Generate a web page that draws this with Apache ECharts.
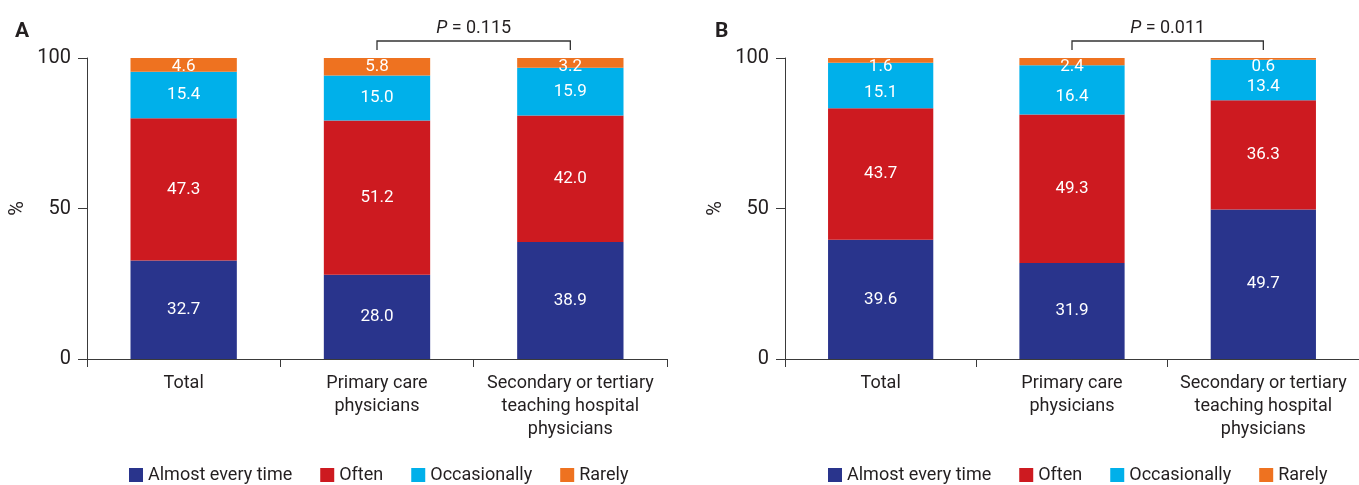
<!DOCTYPE html>
<html>
<head>
<meta charset="utf-8">
<script src="https://cdn.jsdelivr.net/npm/echarts@6/dist/echarts.min.js"></script>
<style>
  html, body { margin: 0; padding: 0; background: #fff; }
  #main { width: 1359px; height: 485px; }
</style>
</head>
<body>
<div id="main"></div>
<script>
// categories and legend names
const categories = ['Total', 'Primary care\nphysicians', 'Secondary or tertiary\nteaching hospital\nphysicians'];
const levels = ['Almost every time', 'Often', 'Occasionally', 'Rarely'];

// panel A values (%)
const almostA = [32.7, 28.0, 38.9];
const oftenA = [47.3, 51.2, 42.0];
const occasA = [15.4, 15.0, 15.9];
const rarelyA = [4.6, 5.8, 3.2];

// panel B values (%)
const almostB = [39.6, 31.9, 49.7];
const oftenB = [43.7, 49.3, 36.3];
const occasB = [15.1, 16.4, 13.4];
const rarelyB = [1.6, 2.4, 0.6];

const pValues = ['0.115', '0.011'];

const colors = ['#29348c', '#cd1a20', '#00b0ea', '#ee7220'];
const txt = '#231f20';
const font = 'Roboto';

let chart = echarts.init(document.getElementById('main'));

function mkSeries(idx, arrs) {
    return arrs.map((arr, k) => {
        let label = {
            show: true, color: '#fff', fontSize: 17, fontFamily: font,
            formatter: p => p.value.toFixed(1)
        };
        if (k === 3) {
            label.position = 'insideTop';
            label.distance = 0;
        } else {
            label.position = 'inside';
            if (k === 2 && idx === 1) label.offset = [0, 7];
        }
        return {
            name: levels[k], type: 'bar', stack: 'p' + idx,
            xAxisIndex: idx, yAxisIndex: idx,
            barWidth: '55%',
            itemStyle: { color: colors[k] },
            label: label,
            data: arr
        };
    });
}

const axisColor = '#3a3a3a';
function xAx(i) {
    return {
        type: 'category', gridIndex: i, data: categories,
        axisLine: { lineStyle: { color: axisColor } },
        axisTick: { show: true, length: 8, lineStyle: { color: axisColor } },
        axisLabel: { color: txt, fontSize: 18, fontFamily: font, margin: 13, lineHeight: 23, interval: 0 }
    };
}
function yAx(i) {
    return {
        type: 'value', gridIndex: i, min: 0, max: 100, interval: 50,
        name: '%', nameLocation: 'middle', nameGap: 59, nameRotate: 90,
        nameTextStyle: { color: txt, fontSize: 20, fontFamily: font },
        axisLine: { show: true, lineStyle: { color: axisColor } },
        axisTick: { show: true, length: 9, lineStyle: { color: axisColor } },
        splitLine: { show: false },
        axisLabel: { color: txt, fontSize: 20, fontFamily: font, margin: 16 }
    };
}
function leg(left) {
    return {
        data: levels, top: 461, left: left, icon: 'rect',
        itemWidth: 14, itemHeight: 14, itemGap: 28,
        textStyle: { color: txt, fontSize: 18, fontFamily: font }
    };
}

let option = {
    animation: false,
    backgroundColor: '#fff',
    title: [
        { text: 'A', left: 10, top: 16, textStyle: { fontSize: 21, fontWeight: 'bold', color: txt, fontFamily: font } },
        { text: 'B', left: 710, top: 16, textStyle: { fontSize: 21, fontWeight: 'bold', color: txt, fontFamily: font } }
    ],
    grid: [
        { left: 87, top: 58, width: 580, height: 301 },
        { left: 785, top: 58, width: 580, height: 301 }
    ],
    xAxis: [xAx(0), xAx(1)],
    yAxis: [yAx(0), yAx(1)],
    legend: [leg(124), leg(823)],
    series: mkSeries(0, [almostA, oftenA, occasA, rarelyA])
        .concat(mkSeries(1, [almostB, oftenB, occasB, rarelyB]))
};
chart.setOption(option);

// p-value brackets between the 2nd and 3rd bars of each panel
function drawBrackets() {
    let els = [];
    [0, 1].forEach(i => {
        let a = chart.convertToPixel({ xAxisIndex: i, yAxisIndex: i }, [1, 100]);
        let b = chart.convertToPixel({ xAxisIndex: i, yAxisIndex: i }, [2, 100]);
        let top = a[1] - 17, bot = a[1] - 8;
        els.push({
            type: 'polyline',
            shape: { points: [[a[0], bot], [a[0], top], [b[0], top], [b[0], bot]] },
            style: { stroke: '#333', lineWidth: 1.3, fill: null }
        });
        els.push({
            type: 'text',
            x: (a[0] + b[0]) / 2, y: top - 13,
            style: {
                text: '{i|P} = ' + pValues[i],
                align: 'center', verticalAlign: 'middle',
                fill: txt, fontSize: 18, fontFamily: font,
                rich: { i: { fontStyle: 'italic', fontSize: 18, fontFamily: font, fill: txt } }
            }
        });
    });
    chart.setOption({ graphic: els });
}
drawBrackets();

window.addEventListener('resize', () => {
    chart.resize();
    drawBrackets();
});
</script>
</body>
</html>
